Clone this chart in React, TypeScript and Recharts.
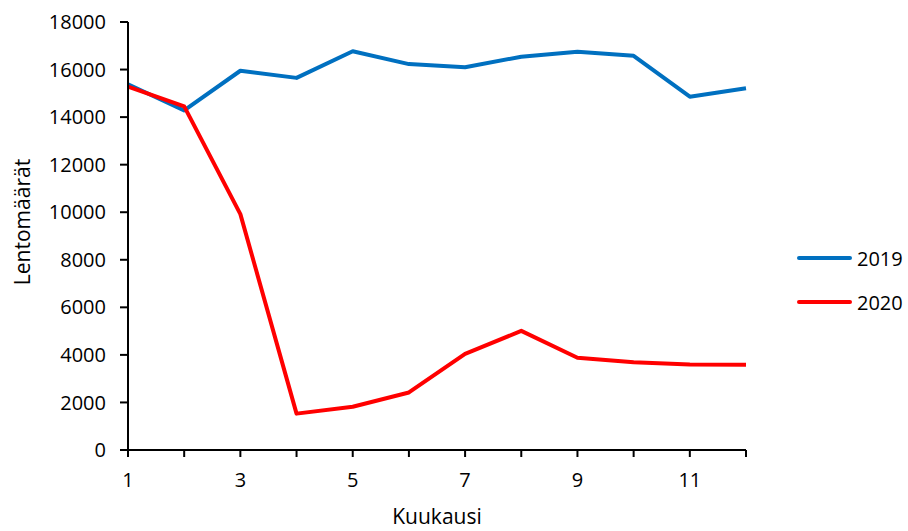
import React from 'react';
import { LineChart, Line, XAxis, YAxis } from 'recharts';

const months = [1, 2, 3, 4, 5, 6, 7, 8, 9, 10, 11, 12];
const flights2019 = [15380, 14280, 15950, 15650, 16770, 16230, 16100, 16540, 16750, 16580, 14860, 15210];
const flights2020 = [15280, 14450, 9920, 1530, 1820, 2420, 4040, 5010, 3880, 3690, 3600, 3590];
const yTicks = [0, 2000, 4000, 6000, 8000, 10000, 12000, 14000, 16000, 18000];
const xTicks = months;
const xLabels = [1, 3, 5, 7, 9, 11];
const xTitle = 'Kuukausi';
const yTitle = 'Lentomäärät';

const series = [
  { key: 'y2019', name: '2019', color: '#0070C0', values: flights2019 },
  { key: 'y2020', name: '2020', color: '#FF0000', values: flights2020 },
];

const data = months.map((m, i) => ({ month: m, y2019: flights2019[i], y2020: flights2020[i] }));

const FONT = '"Open Sans", sans-serif';
const FS = 20;
const TFS = 21;

export default function App() {
  return (
    <div style={{ position: 'absolute', left: 0, top: 0, width: 908, height: 531, background: '#fff' }}>
      <LineChart width={908} height={531} data={data} margin={{ top: 22, right: 162, bottom: 0, left: 0 }}>
        <XAxis
          dataKey="month"
          type="number"
          domain={[1, 12]}
          ticks={xTicks}
          interval={0}
          height={81}
          tickSize={7}
          tickMargin={16}
          axisLine={{ stroke: '#000', strokeWidth: 2 }}
          tickLine={{ stroke: '#000', strokeWidth: 2 }}
          tick={{ fill: '#000', fontSize: FS, fontFamily: FONT }}
          tickFormatter={(v: number) => (xLabels.includes(v) ? String(v) : '')}
          label={{
            content: () => (
              <text x={437} y={524} textAnchor="middle" fill="#000" fontSize={TFS} fontFamily={FONT}>
                {xTitle}
              </text>
            ),
          }}
        />
        <YAxis
          type="number"
          domain={[0, 18000]}
          ticks={yTicks}
          interval={0}
          width={128}
          tickSize={8}
          tickMargin={14}
          axisLine={{ stroke: '#000', strokeWidth: 2 }}
          tickLine={{ stroke: '#000', strokeWidth: 2 }}
          tick={{ fill: '#000', fontSize: FS, fontFamily: FONT }}
          label={{
            content: () => (
              <text
                x={30}
                y={222}
                textAnchor="middle"
                fill="#000"
                fontSize={TFS}
                fontFamily={FONT}
                transform="rotate(-90, 30, 222)"
              >
                {yTitle}
              </text>
            ),
          }}
        />
        {series.map((s) => (
          <Line
            key={s.key}
            dataKey={s.key}
            name={s.name}
            stroke={s.color}
            strokeWidth={4}
            dot={false}
            activeDot={false}
            strokeLinejoin="round"
            isAnimationActive={false}
          />
        ))}
      </LineChart>
      <div style={{ position: 'absolute', left: 797, top: 243, fontFamily: FONT, fontSize: FS, color: '#000' }}>
        {series.map((s) => (
          <div key={s.key} style={{ display: 'flex', alignItems: 'center', height: 30, marginBottom: 14 }}>
            <div style={{ width: 55, height: 4, borderRadius: 2, background: s.color, marginRight: 5 }} />
            <span>{s.name}</span>
          </div>
        ))}
      </div>
    </div>
  );
}
